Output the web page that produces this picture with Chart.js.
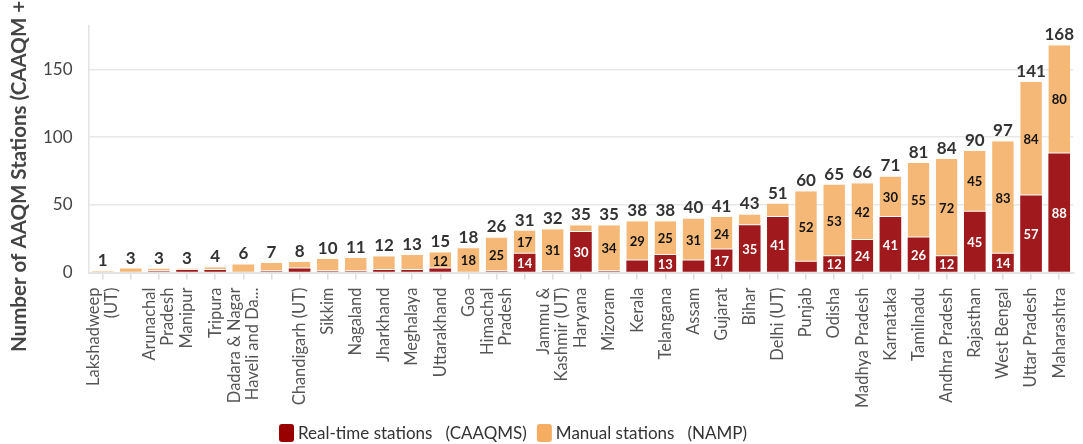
<!DOCTYPE html>
<html>
<head>
<meta charset="utf-8">
<script src="https://cdn.jsdelivr.net/npm/chart.js@4/dist/chart.umd.min.js"></script>
<style>
  html, body { margin: 0; padding: 0; background: #ffffff; }
  #wrap { width: 1083px; height: 444px; position: relative; }
</style>
</head>
<body>
<div id="wrap"><canvas id="chart"></canvas></div>
<script>
// States / UTs, ordered by total number of monitoring stations
const categories = [
  ["Lakshadweep", "(UT)"], "", ["Arunachal", "Pradesh"], "Manipur", "Tripura",
  ["Dadara & Nagar", "Haveli and Da..."], "", "Chandigarh (UT)", "Sikkim", "Nagaland",
  "Jharkhand", "Meghalaya", "Uttarakhand", "Goa", ["Himachal", "Pradesh"],
  "", ["Jammu &", "Kashmir (UT)"], "Haryana", "Mizoram", "Kerala",
  "Telangana", "Assam", "Gujarat", "Bihar", "Delhi (UT)",
  "Punjab", "Odisha", "Madhya Pradesh", "Karnataka", "Tamilnadu",
  "Andhra Pradesh", "Rajasthan", "West Bengal", "Uttar Pradesh", "Maharashtra"
];

// Real-time stations (CAAQMS)
const realTime = [
  0, 0, 1, 2, 2, 0, 1, 3, 1, 1,
  2, 2, 3, 0, 1, 14, 1, 30, 1, 9,
  13, 9, 17, 35, 41, 8, 12, 24, 41, 26,
  12, 45, 14, 57, 88
];

// Manual stations (NAMP)
const manual = [
  1, 3, 2, 1, 2, 6, 6, 5, 9, 10,
  10, 11, 12, 18, 25, 17, 31, 5, 34, 29,
  25, 31, 24, 8, 10, 52, 53, 42, 30, 55,
  72, 45, 83, 84, 80
];

const yTicks = [0, 50, 100, 150];

const FONT = "Lato, 'Source Sans Pro', 'Noto Sans', sans-serif";
const RED = "#a0191c";
const ORANGE = "#f5b877";
const LEGEND_RED = "#990000";
const LEGEND_ORANGE = "#f5ad62";
const MIN_INSIDE_LABEL = 12;
const X_LABEL_SIZE = 16.5;
const X_LINE_GAP = 18;

const seriesNames = ["Real-time stations   (CAAQMS)", "Manual stations   (NAMP)"];
const totals = realTime.map((v, i) => v + manual[i]);

// Values inside segments and totals above each stack
const valueLabels = {
  id: "valueLabels",
  afterDatasetsDraw(chart) {
    const ctx = chart.ctx;
    const yScale = chart.scales.y;
    ctx.save();
    ctx.textAlign = "center";
    ctx.textBaseline = "middle";
    ctx.font = "bold 13px " + FONT;
    chart.data.datasets.forEach((ds, di) => {
      const meta = chart.getDatasetMeta(di);
      meta.data.forEach((bar, i) => {
        const v = ds.data[i];
        if (v >= MIN_INSIDE_LABEL) {
          ctx.fillStyle = di === 0 ? "#ffffff" : "#111111";
          ctx.fillText(String(v), bar.x, (bar.y + bar.base) / 2 + 1);
        }
      });
    });
    ctx.font = "bold 17px " + FONT;
    ctx.fillStyle = "#333333";
    ctx.textBaseline = "alphabetic";
    const meta0 = chart.getDatasetMeta(0);
    totals.forEach((t, i) => {
      const x = meta0.data[i].x;
      const y = yScale.getPixelForValue(t);
      ctx.fillText(String(t), x, y - 5);
    });
    ctx.restore();
  }
};

// Category names, rotated, with wrapped lines centred on each tick
const categoryLabels = {
  id: "categoryLabels",
  afterDraw(chart) {
    const ctx = chart.ctx;
    const xs = chart.scales.x;
    const top = chart.chartArea.bottom + 15;
    ctx.save();
    ctx.font = X_LABEL_SIZE + "px " + FONT;
    ctx.fillStyle = "#555555";
    ctx.textAlign = "right";
    ctx.textBaseline = "middle";
    categories.forEach((c, i) => {
      const lines = Array.isArray(c) ? c : [c];
      const x = xs.getPixelForTick(i);
      ctx.save();
      ctx.translate(x, top);
      ctx.rotate(-Math.PI / 2);
      lines.forEach((ln, j) => {
        ctx.fillText(ln, 0, (j - (lines.length - 1) / 2) * X_LINE_GAP);
      });
      ctx.restore();
    });
    ctx.restore();
  }
};

// Rotated y-axis title and the legend row
const titleAndLegend = {
  id: "titleAndLegend",
  afterDraw(chart) {
    const ctx = chart.ctx;
    ctx.save();
    ctx.translate(19, 352);
    ctx.rotate(-Math.PI / 2);
    ctx.textAlign = "left";
    ctx.textBaseline = "middle";
    ctx.font = "bold 20.5px " + FONT;
    ctx.fillStyle = "#444444";
    ctx.fillText("Number of AAQM Stations (CAAQM + NAMP)", 0, 0);
    ctx.restore();

    ctx.save();
    ctx.font = "17px " + FONT;
    ctx.textBaseline = "middle";
    ctx.textAlign = "left";
    const fills = [LEGEND_RED, LEGEND_ORANGE];
    const boxW = 15, boxH = 18, gapText = 4, gapItem = 10;
    const widths = seriesNames.map(s => ctx.measureText(s).width);
    const total = widths.reduce((a, w) => a + boxW + gapText + w, 0) + gapItem;
    let x = 513 - total / 2;
    const cy = 433;
    seriesNames.forEach((s, i) => {
      ctx.fillStyle = fills[i];
      ctx.beginPath();
      ctx.roundRect(x, cy - boxH / 2, boxW, boxH, 3);
      ctx.fill();
      x += boxW + gapText;
      ctx.fillStyle = "#333333";
      ctx.fillText(s, x, cy + 1);
      x += widths[i] + gapItem;
    });
    ctx.restore();
  }
};

new Chart(document.getElementById("chart"), {
  type: "bar",
  data: {
    labels: categories,
    datasets: [
      {
        label: seriesNames[0],
        data: realTime,
        backgroundColor: RED,
        borderWidth: 0
      },
      {
        label: seriesNames[1],
        data: manual,
        backgroundColor: ORANGE,
        borderColor: "#ffffff",
        borderSkipped: false,
        borderWidth: (c) => ({ top: 0, left: 0, right: 0, bottom: realTime[c.dataIndex] > 0 ? 1 : 0 })
      }
    ]
  },
  options: {
    responsive: true,
    maintainAspectRatio: false,
    animation: false,
    devicePixelRatio: 1,
    layout: { padding: { left: 27, top: 20, right: 0, bottom: 36 } },
    datasets: { bar: { barPercentage: 0.77, categoryPercentage: 1.0 } },
    plugins: {
      tooltip: { enabled: false },
      legend: { display: false }
    },
    scales: {
      x: {
        stacked: true,
        grid: {
          offset: false,
          drawOnChartArea: false,
          drawTicks: true,
          tickLength: 7,
          color: "#dddddd",
          lineWidth: 1.5
        },
        border: { color: "#e3e3e3", width: 2 },
        ticks: {
          autoSkip: false,
          maxRotation: 90,
          minRotation: 90,
          padding: 4,
          color: "rgba(0,0,0,0)",
          font: { family: FONT, size: X_LABEL_SIZE }
        }
      },
      y: {
        stacked: true,
        min: 0,
        max: 182,
        afterBuildTicks(scale) {
          scale.ticks = yTicks.map(v => ({ value: v }));
        },
        grid: {
          color: "#e8e8e8",
          lineWidth: 1.5,
          drawTicks: false
        },
        border: { color: "#e3e3e3", width: 1.5 },
        ticks: {
          padding: 16,
          color: "#444444",
          font: { family: FONT, size: 17 }
        }
      }
    }
  },
  plugins: [valueLabels, categoryLabels, titleAndLegend]
});
</script>
</body>
</html>
